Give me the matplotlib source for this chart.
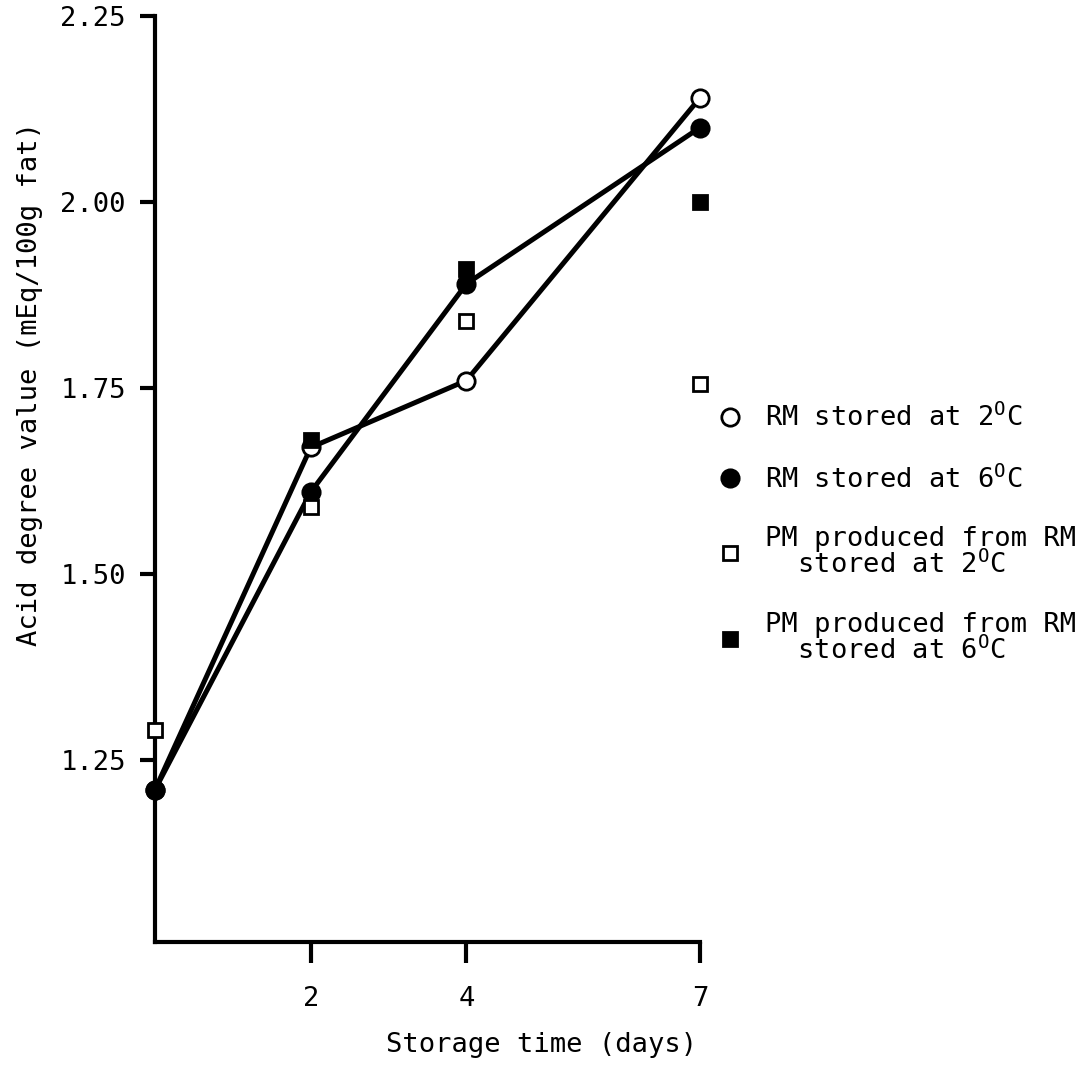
import numpy as np
import matplotlib
matplotlib.use("Agg")
import matplotlib.pyplot as plt
from matplotlib.lines import Line2D

plt.rcParams['font.family'] = ['DejaVu Sans Mono', 'DejaVu Sans']
plt.rcParams['mathtext.fontset'] = 'custom'
plt.rcParams['mathtext.rm'] = 'DejaVu Sans Mono'

# storage time (days)
days = [0, 2, 4, 7]

# acid degree values (mEq/100g fat)
rm_2c = [1.21, 1.67, 1.76, 2.14]
rm_6c = [1.21, 1.61, 1.89, 2.10]
pm_2c = [1.29, 1.59, 1.84, 1.755]
pm_6c = [np.nan, 1.68, 1.91, 2.00]

labels = [r"RM stored at 2$^{\mathrm{O}}$C",
          r"RM stored at 6$^{\mathrm{O}}$C",
          "PM produced from RM\n  stored at 2$^{\\mathrm{O}}$C",
          "PM produced from RM\n  stored at 6$^{\\mathrm{O}}$C"]

yticks = [1.25, 1.50, 1.75, 2.00, 2.25]
xticks = [2, 4, 7]

fig = plt.figure(figsize=(10.79, 10.71), dpi=100)
ax = fig.add_axes([0.1437, 0.1204, 0.505, 0.8646])

fs = 19.5
circ = dict(marker='o', ms=12.5, mec='black', mew=2)
sq = dict(marker='s', ms=10.5, mec='black', mew=2)

ax.plot(days, rm_2c, color='black', lw=3.6, mfc='white', clip_on=False, zorder=3, **circ)
ax.plot(days, rm_6c, color='black', lw=3.6, mfc='black', clip_on=False, zorder=3, **circ)
ax.plot(days, pm_2c, ls='none', mfc='white', clip_on=False, zorder=4, **sq)
ax.plot(days, pm_6c, ls='none', mfc='black', clip_on=False, zorder=4, **sq)

ax.set_xlim(0, 7)
ax.set_ylim(1.005, 2.25)
ax.set_xticks(xticks)
ax.set_yticks(yticks)
ax.set_yticklabels([f"{v:.2f}" for v in yticks])

for s in ['top', 'right']:
    ax.spines[s].set_visible(False)
for s in ['left', 'bottom']:
    ax.spines[s].set_linewidth(3)

ax.tick_params(axis='x', direction='out', length=15, width=3, pad=17, labelsize=fs)
ax.tick_params(axis='y', direction='out', length=11, width=3, pad=10, labelsize=fs)

fig.text(30 / 1079, 1 - 384 / 1071, "Acid degree value (mEq/100g fat)",
         rotation=90, ha='center', va='center', fontsize=fs)
fig.text(542 / 1079, 1 - 1045 / 1071, "Storage time (days)",
         ha='center', va='center', fontsize=fs)

# legend: markers only, no line
handles = [Line2D([], [], ls='none', mfc='white', **circ),
           Line2D([], [], ls='none', mfc='black', **circ),
           Line2D([], [], ls='none', mfc='white', **sq),
           Line2D([], [], ls='none', mfc='black', **sq)]
leg = ax.legend(handles, labels, loc='upper left',
                bbox_to_anchor=(716 / 1079, 1 - 404 / 1071),
                bbox_transform=fig.transFigure, frameon=False, fontsize=fs,
                handlelength=1.0, handletextpad=0.8, labelspacing=1.2,
                borderpad=0, borderaxespad=0)
for t in leg.get_texts():
    t.set_linespacing(0.95)

fig.savefig("out.png", dpi=100)
